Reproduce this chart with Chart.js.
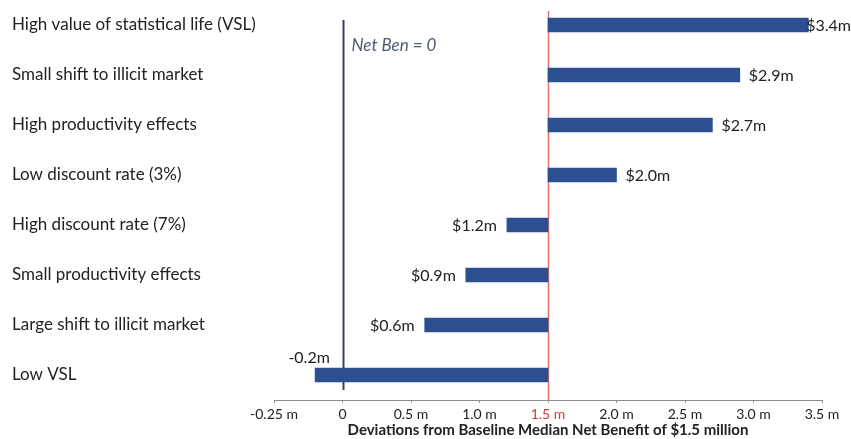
<!DOCTYPE html>
<html>
<head>
<meta charset="utf-8">
<script src="https://cdn.jsdelivr.net/npm/chart.js@4/dist/chart.umd.min.js"></script>
<style>
  html, body { margin: 0; padding: 0; background: #fff; }
  #wrap { width: 851px; height: 439px; position: relative; }
</style>
</head>
<body>
<div id="wrap"><canvas id="tornado"></canvas></div>
<script>
// Sensitivity scenarios, net benefit in $ millions
const cenarios = [
    'High value of statistical life (VSL)',
    'Small shift to illicit market',
    'High productivity effects',
    'Low discount rate (3%)',
    'High discount rate (7%)',
    'Small productivity effects',
    'Large shift to illicit market',
    'Low VSL'
];
const beneficioLiquido = [3.4, 2.9, 2.7, 2.0, 1.2, 0.9, 0.6, -0.2];
const rotulosValor = ['$3.4m', '$2.9m', '$2.7m', '$2.0m', '$1.2m', '$0.9m', '$0.6m', '-0.2m'];
const baseline = 1.5;

// x axis ticks and their printed labels
const ticksX = [-0.5, 0, 0.5, 1.0, 1.5, 2.0, 2.5, 3.0, 3.5];
const rotulosX = ['-0.25 m', '0', '0.5 m', '1.0 m', '1.5 m', '2.0 m', '2.5 m', '3.0 m', '3.5 m'];

const FONTE = 'Lato, "Open Sans", sans-serif';

// vertical reference lines + bar value labels
const linhasERotulos = {
    id: 'linhasERotulos',
    beforeDatasetsDraw(chart) {
        const { ctx, scales: { x }, chartArea } = chart;
        ctx.save();
        // baseline (red)
        const xb = Math.round(x.getPixelForValue(baseline)) + 0.5;
        ctx.strokeStyle = '#e07070';
        ctx.lineWidth = 1.5;
        ctx.beginPath();
        ctx.moveTo(xb, 11);
        ctx.lineTo(xb, chartArea.bottom);
        ctx.stroke();
        // net benefit = 0
        const x0 = Math.round(x.getPixelForValue(0)) + 0.5;
        ctx.strokeStyle = '#3b4150';
        ctx.lineWidth = 2;
        ctx.beginPath();
        ctx.moveTo(x0, 20);
        ctx.lineTo(x0, chartArea.bottom - 10);
        ctx.stroke();
        ctx.fillStyle = '#4d5b70';
        ctx.font = 'italic 17px ' + FONTE;
        ctx.textAlign = 'left';
        ctx.textBaseline = 'middle';
        ctx.fillText('Net Ben = 0', x0 + 8, 46);
        ctx.restore();
    },
    afterDatasetsDraw(chart) {
        const { ctx, scales: { x } } = chart;
        const meta = chart.getDatasetMeta(0);
        ctx.save();
        ctx.font = '16px ' + FONTE;
        ctx.fillStyle = '#222';
        ctx.textBaseline = 'middle';
        meta.data.forEach((bar, i) => {
            const v = beneficioLiquido[i];
            const px = x.getPixelForValue(v);
            const txt = rotulosValor[i];
            if (v < 0) {
                ctx.textAlign = 'center';
                ctx.fillText(txt, px - 6, bar.y - 17);
            } else if (v >= baseline) {
                // keep the label inside the canvas
                const w = ctx.measureText(txt).width;
                ctx.textAlign = 'left';
                ctx.fillText(txt, Math.min(px + 9, chart.width - w), bar.y + 1);
            } else {
                ctx.textAlign = 'right';
                ctx.fillText(txt, px - 10, bar.y + 1);
            }
        });
        ctx.restore();
    }
};

new Chart(document.getElementById('tornado'), {
    type: 'bar',
    data: {
        labels: cenarios,
        datasets: [{
            data: beneficioLiquido.map(v => [baseline, v]),
            backgroundColor: '#2c4f91',
            borderSkipped: false,
            barThickness: 14
        }]
    },
    options: {
        indexAxis: 'y',
        responsive: true,
        maintainAspectRatio: false,
        animation: false,
        layout: { padding: { top: 0, right: 29, bottom: 0, left: 12 } },
        plugins: {
            legend: { display: false },
            tooltip: { enabled: false }
        },
        scales: {
            x: {
                min: -0.5,
                max: 3.5,
                afterBuildTicks: (scale) => { scale.ticks = ticksX.map(v => ({ value: v })); },
                afterFit: (scale) => { scale.height = 39; },
                grid: { drawOnChartArea: false, tickLength: 3, color: '#999' },
                border: { color: '#8a8a8a', width: 1 },
                ticks: {
                    padding: 3,
                    font: { family: FONTE, size: 14 },
                    color: (c) => c.tick && c.tick.value === baseline ? '#d23a3a' : '#222',
                    callback: (v) => rotulosX[ticksX.indexOf(v)]
                },
                title: {
                    display: true,
                    text: 'Deviations from Baseline Median Net Benefit of $1.5 million',
                    font: { family: FONTE, size: 15, weight: 'bold' },
                    color: '#222',
                    padding: { top: 0, bottom: 0 }
                }
            },
            y: {
                grid: { display: false },
                border: { display: false },
                afterFit: (scale) => {
                    scale.width = 262;
                    scale.paddingTop = 0;
                    scale.paddingBottom = 0;
                },
                ticks: {
                    crossAlign: 'far',
                    padding: 0,
                    font: { family: FONTE, size: 17 },
                    color: '#222'
                }
            }
        }
    },
    plugins: [linhasERotulos]
});
</script>
</body>
</html>
